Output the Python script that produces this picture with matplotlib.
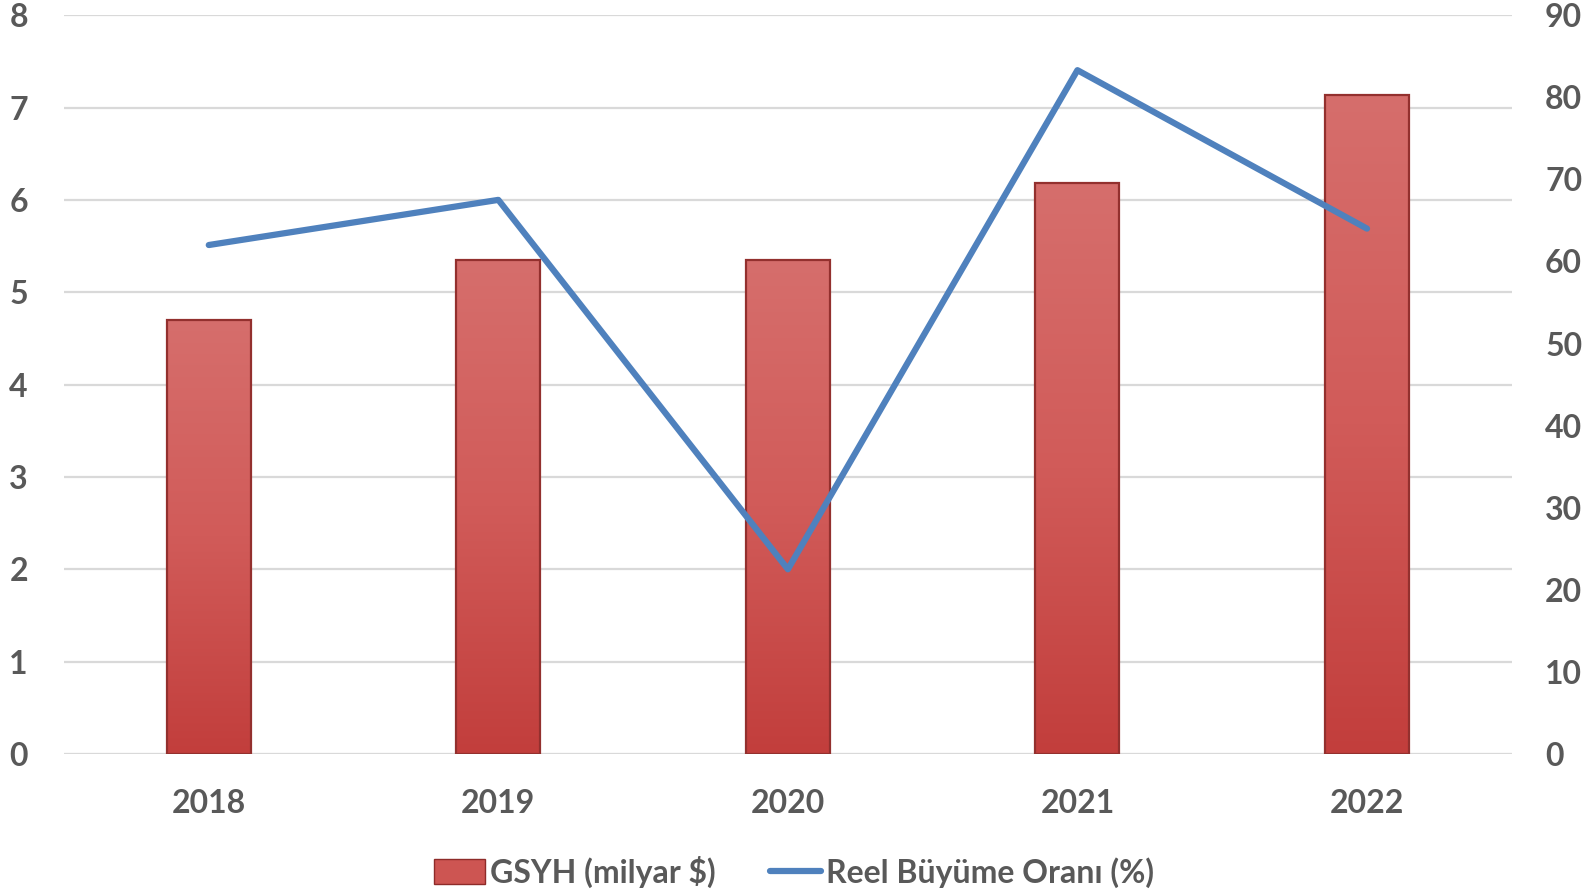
"""GSYH bars with real growth line on a twin axis."""

import matplotlib
matplotlib.use("Agg")
import matplotlib.pyplot as plt
import numpy as np
from matplotlib.colors import LinearSegmentedColormap
from matplotlib.lines import Line2D
from matplotlib.patches import Patch

years = ["2018", "2019", "2020", "2021", "2022"]
gsyh = [4.70, 5.35, 5.35, 6.18, 7.14]
growth = [62.0, 67.5, 22.5, 83.3, 64.0]

TEXT = "#595959"
GRID = "#d9d9d9"
LINE = "#4f81bd"
FS = 23
plt.rcParams["font.family"] = ["Lato", "DejaVu Sans"]

fig = plt.figure(figsize=(15.88, 8.92), dpi=100)
ax = fig.add_axes([0.0403, 0.1547, 0.9117, 0.8283])
ax2 = ax.twinx()

x = np.arange(len(years))
bars = ax.bar(x, gsyh, width=0.29, color="#cd5552", edgecolor="#8e2b29",
              linewidth=1.2, zorder=2)

# vertical gradient fill inside each bar
cmap = LinearSegmentedColormap.from_list("bar", ["#c23e3c", "#d15b59", "#d66e6c"])
grad = np.linspace(0, 1, 256).reshape(-1, 1)
for b in bars:
    x0, y0 = b.get_x(), b.get_y()
    w, h = b.get_width(), b.get_height()
    im = ax.imshow(grad, cmap=cmap, extent=(x0, x0 + w, y0, y0 + h),
                   origin="lower", aspect="auto", zorder=2.1)
    im.set_clip_path(b)
    ax.add_patch(plt.Rectangle((x0, y0), w, h, fill=False, edgecolor="#93302e",
                               linewidth=1.6, zorder=2.2))

ax2.plot(x, growth, color=LINE, linewidth=4.5, solid_capstyle="round",
         solid_joinstyle="round", zorder=3)

ax.set_xlim(-0.5, 4.5)
ax.set_ylim(0, 8)
ax2.set_ylim(0, 90)
ax.set_yticks(range(0, 9))
ax2.set_yticks(range(0, 91, 10))
ax.set_xticks(x)
ax.set_xticklabels(years)

ax.grid(axis="y", color=GRID, linewidth=1.6, zorder=0)
ax.set_axisbelow(True)
for a in (ax, ax2):
    for s in a.spines.values():
        s.set_visible(False)
ax.axhline(0, color=GRID, linewidth=2.2, zorder=1)

ax.tick_params(axis="y", length=0, pad=26, labelsize=FS, labelcolor=TEXT)
ax2.tick_params(axis="y", length=0, pad=24, labelsize=FS, labelcolor=TEXT)
ax.tick_params(axis="x", length=0, pad=25, labelsize=FS, labelcolor=TEXT)
for lbl in ax.get_yticklabels() + ax2.get_yticklabels() + ax.get_xticklabels():
    lbl.set_fontweight("bold")

ax2.set_zorder(ax.get_zorder() + 1)
ax2.patch.set_visible(False)

handles = [
    Patch(facecolor="#cd5552", edgecolor="#8e2b29", label="GSYH (milyar $)"),
    Line2D([0], [0], color=LINE, linewidth=4.5, solid_capstyle="round",
           label="Reel Büyüme Oranı (%)"),
]
leg = fig.legend(handles=handles, loc="center", bbox_to_anchor=(0.5, 0.023),
                 ncol=2, frameon=False, handlelength=1.6, handleheight=0.8,
                 handletextpad=0.15, columnspacing=1.7,
                 prop={"weight": "bold", "size": FS})
for t in leg.get_texts():
    t.set_color(TEXT)

fig.savefig("out.png", dpi=100)
plt.close(fig)
